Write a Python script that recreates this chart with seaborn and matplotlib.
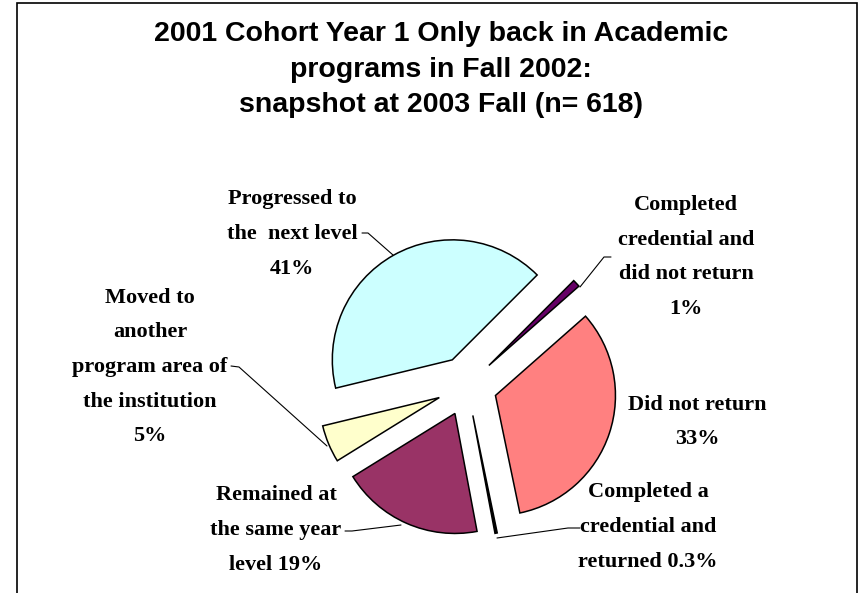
import numpy as np
import matplotlib
matplotlib.use("Agg")
import matplotlib.pyplot as plt
from matplotlib.patches import Rectangle
import seaborn as sns

# slice order, counter-clockwise starting at 45 degrees
categories = ["Progressed to\nthe  next level\n41%",
              "Moved to\nanother\nprogram area of\nthe institution\n5%",
              "Remained at\nthe same year\nlevel 19%",
              "Completed a\ncredential and\nreturned 0.3%",
              "Did not return\n33%",
              "Completed\ncredential and\ndid not return\n1%"]
shares = [41, 5, 19, 0.3, 33, 1]
slice_colors = ["#CCFFFF", "#FFFFCC", "#993366", "#000000", "#FF8080", "#660066"]

title_lines = ["2001 Cohort Year 1 Only back in Academic",
               "programs in Fall 2002:",
               "snapshot at 2003 Fall (n= 618)"]

# label placement (pixel centres) and leader lines
label_pos = [(292, 234), (150, 367), (276, 530), (648, 527), (697, 422), (686, 257)]
leaders = [[(362, 233), (368, 233), (393, 255)],
           [(231, 366), (239, 367), (327, 446)],
           [(345, 531), (352, 531), (401, 525)],
           [(580, 528), (568, 528), (497, 538)],
           None,
           [(611, 257), (604, 257), (580, 287)]]

sns.set_theme(style="white")
plt.rcParams['font.family'] = ['Liberation Serif', 'DejaVu Serif']

CX, CY, R = 467, 386, 120
W, H = 868, 593


def px(x, y):
    return (x - CX) / R, (CY - y) / R


fig = plt.figure(figsize=(W / 100, H / 100), dpi=100)
fig.patch.set_facecolor("white")
ax = fig.add_axes([0, 0, 1, 1])

ax.pie(shares, colors=slice_colors, startangle=45, counterclock=True,
       explode=[0.25] * len(shares), radius=1,
       wedgeprops=dict(edgecolor="black", linewidth=1.1))

ax.set_xlim(-CX / R, (W - CX) / R)
ax.set_ylim((CY - H) / R, CY / R)
ax.set_aspect("auto")
ax.axis("off")

for lab, (lx, ly) in zip(categories, label_pos):
    x, y = px(lx, ly)
    ax.text(x, y, lab, ha="center", va="center", multialignment="center",
            fontsize=16, fontweight="bold", linespacing=1.98, color="black")

for pts in leaders:
    if pts is None:
        continue
    xy = np.array([px(a, b) for a, b in pts])
    ax.plot(xy[:, 0], xy[:, 1], color="black", lw=0.8)

for line, base in zip(title_lines, [41, 77, 112]):
    fig.text(441 / W, 1 - base / H, line, ha="center", va="baseline", color="black",
             fontsize=20.5, fontweight="bold", family=["Liberation Sans", "DejaVu Sans"])

fig.patches.append(Rectangle((17 / W, -0.1), (857 - 17) / W, 1.1 - 3 / H,
                             transform=fig.transFigure, fill=False,
                             edgecolor="black", linewidth=1.2))

fig.savefig("out.png", dpi=100)
